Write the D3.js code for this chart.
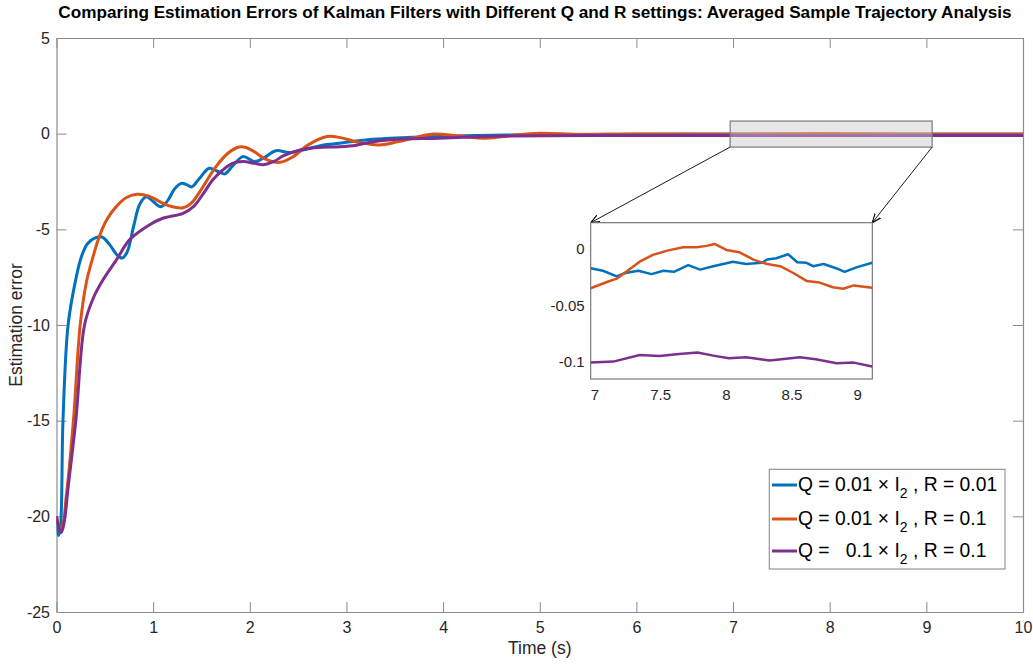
<!DOCTYPE html>
<html><head><meta charset="utf-8">
<script src="https://cdn.jsdelivr.net/npm/d3@7"></script>
<style>
body{margin:0;background:#fff;}
text{font-family:"Liberation Sans",Arial,sans-serif;}
</style></head>
<body><svg id="c" width="1033" height="664"></svg>
<script>
// ---------- data ----------
const xTicks = [0,1,2,3,4,5,6,7,8,9,10];
const yTicks = [5,0,-5,-10,-15,-20,-25];
const insetXTicks = [7,7.5,8,8.5,9];
const insetYTicks = [0,-0.05,-0.1];
const seriesNames = ["Q = 0.01 × I|2| , R = 0.01","Q = 0.01 × I|2| , R = 0.1","Q =   0.1 × I|2| , R = 0.1"];
const colors = ["#0072BD","#D95319","#7E2F8E"];

const blueT = [0,0.02,0.04,0.067,0.12,0.2,0.26,0.32,0.4,0.47,0.55,0.62,0.68,0.73,0.8,0.86,0.93,1.0,1.08,1.15,1.22,1.29,1.34,1.40,1.47,1.58,1.66,1.74,1.82,1.93,2.05,2.15,2.27,2.41,2.58,2.75,2.93,3.1,3.27,3.45,3.69,4.0,4.5,5,6,7,8,9,10];
const blueY = [-20.0,-21.0,-20.6,-15,-10,-7.6,-6.4,-5.75,-5.45,-5.4,-5.8,-6.3,-6.5,-6.2,-4.8,-3.7,-3.3,-3.55,-3.82,-3.5,-2.9,-2.6,-2.65,-2.78,-2.4,-1.81,-1.95,-2.1,-1.7,-1.2,-1.46,-1.25,-0.89,-0.99,-0.82,-0.6,-0.5,-0.38,-0.29,-0.24,-0.19,-0.13,-0.08,-0.05,-0.03,-0.017,-0.012,-0.016,-0.02];

const orangeT = [0,0.03,0.06,0.1,0.175,0.245,0.31,0.38,0.445,0.52,0.62,0.72,0.83,0.95,1.05,1.15,1.31,1.4,1.5,1.65,1.78,1.89,1.95,2.05,2.15,2.31,2.45,2.6,2.8,2.95,3.1,3.34,3.55,3.9,4.15,4.45,4.7,5.0,5.4,6,7,7.9,9,10];
const orangeY = [-20.0,-20.6,-20.5,-19,-15,-10,-7.75,-6.4,-5.35,-4.5,-3.8,-3.35,-3.17,-3.25,-3.5,-3.75,-3.87,-3.6,-2.9,-1.72,-1.0,-0.7,-0.71,-0.95,-1.3,-1.5,-1.2,-0.6,-0.15,-0.22,-0.42,-0.59,-0.4,-0.02,-0.12,-0.24,-0.1,0.02,-0.04,-0.02,-0.034,0.004,-0.032,-0.03];

const purpleT = [0,0.03,0.05,0.08,0.12,0.2,0.29,0.38,0.48,0.62,0.755,0.96,1.1,1.31,1.42,1.51,1.62,1.72,1.82,1.93,2.05,2.14,2.25,2.35,2.52,2.7,2.93,3.1,3.27,3.5,3.96,4.3,4.72,5.5,7,8,9,10];
const purpleY = [-20.0,-20.7,-20.85,-20.3,-18.5,-15,-10,-8.6,-7.65,-6.6,-5.55,-4.77,-4.42,-4.16,-3.8,-3.2,-2.4,-1.9,-1.55,-1.46,-1.55,-1.62,-1.45,-1.15,-0.85,-0.72,-0.68,-0.6,-0.42,-0.3,-0.24,-0.17,-0.12,-0.1,-0.1,-0.096,-0.1,-0.1];

// inset (zoomed) readings
const insetBlueT = [6.967,7.06,7.165,7.23,7.33,7.43,7.52,7.6,7.71,7.8,7.9,8.05,8.15,8.27,8.31,8.38,8.47,8.54,8.61,8.66,8.74,8.84,8.9,8.99,9.11];
const insetBlueY = [-0.0168,-0.019,-0.024,-0.021,-0.019,-0.022,-0.019,-0.020,-0.014,-0.018,-0.015,-0.011,-0.013,-0.012,-0.009,-0.008,-0.0044,-0.0115,-0.012,-0.015,-0.013,-0.017,-0.020,-0.016,-0.012];
const insetOrangeT = [6.967,7.09,7.165,7.34,7.44,7.55,7.67,7.77,7.85,7.91,8.0,8.1,8.21,8.31,8.41,8.51,8.61,8.71,8.81,8.89,8.97,9.11];
const insetOrangeY = [-0.0345,-0.029,-0.026,-0.011,-0.005,-0.0012,0.0018,0.0018,0.003,0.0047,-0.0006,-0.0027,-0.0094,-0.013,-0.015,-0.021,-0.028,-0.0295,-0.0336,-0.035,-0.032,-0.034];
const insetPurpleT = [6.967,7.14,7.34,7.49,7.64,7.78,7.9,8.02,8.15,8.33,8.56,8.68,8.84,8.97,9.11];
const insetPurpleY = [-0.1003,-0.0994,-0.0935,-0.0944,-0.0926,-0.0914,-0.0941,-0.0965,-0.0956,-0.0985,-0.0956,-0.0973,-0.1009,-0.1003,-0.1038];

// zoom box region in main-axes data units
const zoomBoxX = [6.97, 9.06];
const zoomBoxY = [-0.7, 0.66];

// ---------- drawing ----------
const svg = d3.select("#c");
const L=56.5, R=1023, T=38, B=612;
const x = d3.scaleLinear().domain([0,10]).range([L,R]);
const y = d3.scaleLinear().domain([-25,5]).range([B,T]);
const axisCol="#8c8c8c", txtCol="#262626";
const fmt = d => String(d);

// title
const title = svg.append("text").attr("x",535).attr("y",18).attr("text-anchor","middle")
  .attr("font-weight","bold").attr("font-size",16).attr("fill","#000")
  .text("Comparing Estimation Errors of Kalman Filters with Different Q and R settings: Averaged Sample Trajectory Analysis");
const tw = title.node().getComputedTextLength();
title.attr("font-size", 16*954/tw);

// axes (ticks inside, box)
const tk=10;
const gx = svg.append("g").attr("transform",`translate(0,${B})`)
  .call(d3.axisBottom(x).tickValues(xTicks).tickSizeInner(-tk).tickSizeOuter(0).tickPadding(10).tickFormat(fmt));
const gxt = svg.append("g").attr("transform",`translate(0,${T})`)
  .call(d3.axisTop(x).tickValues(xTicks).tickSizeInner(-tk).tickSizeOuter(0).tickFormat(""));
const gy = svg.append("g").attr("transform",`translate(${L},0)`)
  .call(d3.axisLeft(y).tickValues(yTicks).tickSizeInner(-tk).tickSizeOuter(0).tickPadding(6.5).tickFormat(fmt));
const gyr = svg.append("g").attr("transform",`translate(${R},0)`)
  .call(d3.axisRight(y).tickValues(yTicks).tickSizeInner(-tk).tickSizeOuter(0).tickFormat(""));
[gx,gxt,gy,gyr].forEach(g=>{
  g.select(".domain").attr("stroke",axisCol).attr("stroke-width",1.2);
  g.selectAll(".tick line").attr("stroke",axisCol);
  g.selectAll(".tick text").attr("fill",txtCol).attr("font-size",16).attr("font-family","Liberation Sans, Arial, sans-serif");
});

svg.append("text").attr("x",(L+R)/2).attr("y",654).attr("text-anchor","middle")
  .attr("font-size",17.5).attr("fill",txtCol).text("Time (s)");
svg.append("text").attr("transform",`translate(22,${(T+B)/2}) rotate(-90)`).attr("text-anchor","middle")
  .attr("font-size",17.5).attr("fill",txtCol).text("Estimation error");

// clip
svg.append("clipPath").attr("id","clipMain").append("rect").attr("x",L).attr("y",T).attr("width",R-L).attr("height",B-T);

const line = d3.line().x(d=>x(d[0])).y(d=>y(d[1])).curve(d3.curveCatmullRom.alpha(0.5));
const mainSeries = [[blueT,blueY],[orangeT,orangeY],[purpleT,purpleY]];
const gl = svg.append("g").attr("clip-path","url(#clipMain)");
mainSeries.forEach((s,i)=>{
  gl.append("path").datum(d3.zip(s[0],s[1])).attr("d",line)
    .attr("fill","none").attr("stroke",colors[i]).attr("stroke-width",3).attr("stroke-linejoin","round");
});

// zoom rectangle
svg.append("rect").attr("x",x(zoomBoxX[0])).attr("y",y(zoomBoxY[1]))
  .attr("width",x(zoomBoxX[1])-x(zoomBoxX[0])).attr("height",y(zoomBoxY[0])-y(zoomBoxY[1]))
  .attr("fill","rgb(200,200,200)").attr("fill-opacity",0.45).attr("stroke","#7a7a7a").attr("stroke-width",1.2);

// inset
const iL=590.7, iR=872.3, iT=222.7, iB=379;
const ix = d3.scaleLinear().domain([6.967,9.111]).range([iL,iR]);
const iy = d3.scaleLinear().domain([-0.1148,0.0235]).range([iB,iT]);

// arrows
const defs = svg.append("defs");
defs.append("marker").attr("id","arr").attr("viewBox","0 0 10 10").attr("refX",10).attr("refY",5)
  .attr("markerWidth",9).attr("markerHeight",9).attr("orient","auto").attr("markerUnits","userSpaceOnUse")
  .append("path").attr("d","M0,1 L10,5 L0,9").attr("fill","none").attr("stroke","#000").attr("stroke-width",1.3);
svg.append("line").attr("x1",x(zoomBoxX[0])).attr("y1",y(zoomBoxY[0])).attr("x2",iL).attr("y2",iT)
  .attr("stroke","#000").attr("stroke-width",0.9).attr("marker-end","url(#arr)");
svg.append("line").attr("x1",x(zoomBoxX[1])).attr("y1",y(zoomBoxY[0])).attr("x2",iR).attr("y2",iT)
  .attr("stroke","#000").attr("stroke-width",0.9).attr("marker-end","url(#arr)");

svg.append("rect").attr("x",iL).attr("y",iT).attr("width",iR-iL).attr("height",iB-iT)
  .attr("fill","#fff").attr("stroke","#6e6e6e").attr("stroke-width",1.1);
svg.append("clipPath").attr("id","clipIn").append("rect").attr("x",iL).attr("y",iT).attr("width",iR-iL).attr("height",iB-iT);
const iline = d3.line().x(d=>ix(d[0])).y(d=>iy(d[1]));
const insetSeries = [[insetBlueT,insetBlueY],[insetOrangeT,insetOrangeY],[insetPurpleT,insetPurpleY]];
const gi = svg.append("g").attr("clip-path","url(#clipIn)");
insetSeries.forEach((s,i)=>{
  gi.append("path").datum(d3.zip(s[0],s[1])).attr("d",iline)
    .attr("fill","none").attr("stroke",colors[i]).attr("stroke-width",2.5).attr("stroke-linejoin","round");
});
svg.append("g").selectAll("text").data(insetXTicks).join("text")
  .attr("x",d=>ix(d)).attr("y",iB+21).attr("text-anchor","middle").attr("font-size",15).attr("fill",txtCol)
  .text(fmt);
svg.append("g").selectAll("text").data(insetYTicks).join("text")
  .attr("x",iL-6).attr("y",d=>iy(d)+5).attr("text-anchor","end").attr("font-size",15).attr("fill",txtCol)
  .text(fmt);

// legend
const lg = svg.append("g");
lg.append("rect").attr("x",769.3).attr("y",469.3).attr("width",1005-769.3).attr("height",569-469.3)
  .attr("fill","#fff").attr("stroke","#8c8c8c").attr("stroke-width",1.1);
const rowY=[485,519,551];
seriesNames.forEach((nm,i)=>{
  lg.append("line").attr("x1",772).attr("x2",797).attr("y1",rowY[i]).attr("y2",rowY[i])
    .attr("stroke",colors[i]).attr("stroke-width",3);
  const parts = nm.split("|");
  const t = lg.append("text").attr("x",798).attr("y",rowY[i]+6).attr("font-size",19.3).attr("fill","#000")
    .style("white-space","pre");
  t.append("tspan").text(parts[0]);
  t.append("tspan").attr("dy",7).attr("font-size",14).text(parts[1]);
  t.append("tspan").attr("dy",-7).text(parts[2]);
});
</script></body></html>
